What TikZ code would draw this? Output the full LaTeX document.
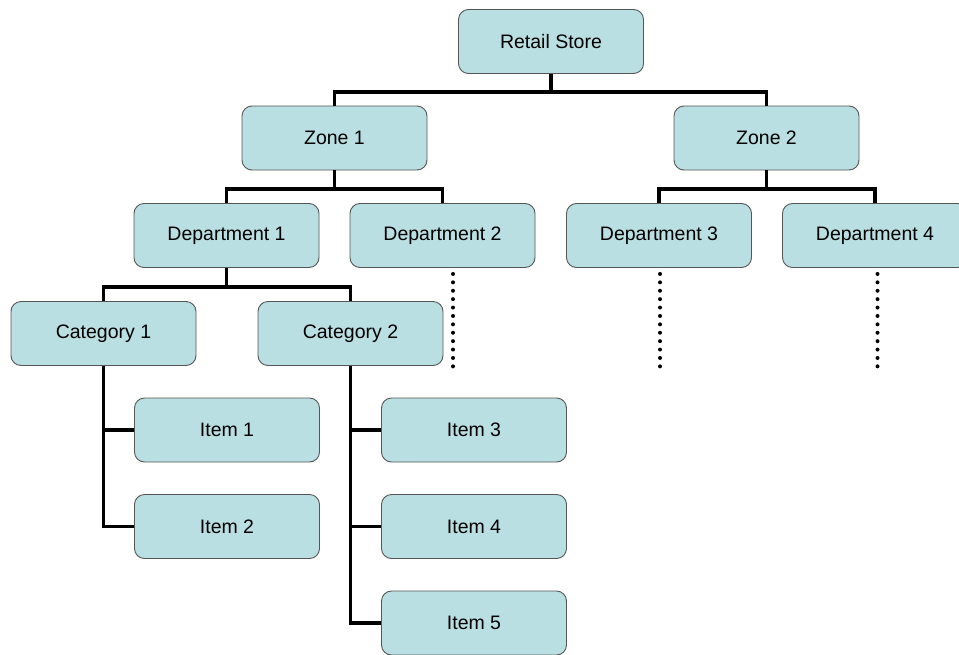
\documentclass[tikz,border=0pt]{standalone}
\usepackage{fontspec}
\setmainfont{Liberation Sans}
\usetikzlibrary{positioning,calc}
\definecolor{boxfill}{RGB}{186,223,226}
\definecolor{boxline}{RGB}{85,85,85}

\begin{document}
\begin{tikzpicture}[
    x=1pt,y=-1pt,
    font=\fontsize{19.5}{22}\selectfont,
    unit/.style={draw=boxline,fill=boxfill,rounded corners=10pt,line width=0.9pt,minimum width=185pt,minimum height=64pt,inner sep=0pt},
    link/.style={draw=black,line width=3.6pt},
    more/.style={draw=black,line width=4pt,line cap=round,dash pattern=on 0pt off 8.4pt}
  ]
    \useasboundingbox (0,0) rectangle (959,654);

    \coordinate (rsbar) at (551,92);
    \coordinate (z1bar) at (334.5,189);
    \coordinate (z2bar) at (766.5,189);
    \coordinate (d1bar) at (226.5,287);

    \node[unit] (store) at (551,41.5) {Retail Store};
    \node[unit] (zone1) at (334.5,138) {Zone 1};
    \node[unit] (zone2) at (766.5,138) {Zone 2};

    \node[unit] (dept1) at (226.5,235.5) {Department 1};
    \node[unit] (dept2) at (442.5,235.5) {Department 2};
    \node[unit] (dept3) at (659,235.5) {Department 3};
    \node[unit] (dept4) at (875,235.5) {Department 4};

    \node[unit] (cat1) at (103.5,333.5) {Category 1};
    \node[unit] (cat2) at (350.5,333.5) {Category 2};

    \node[unit] (item1) at (227,430) {Item 1};
    \node[unit] (item2) at (227,526.5) {Item 2};
    \node[unit] (item3) at (474,430) {Item 3};
    \node[unit] (item4) at (474,526.5) {Item 4};
    \node[unit] (item5) at (474,623) {Item 5};

    % tree links
    \draw[link] (store.south) -- (rsbar) -| (zone1.north);
    \draw[link] (rsbar) -| (zone2.north);
    \draw[link] (zone1.south) -- (z1bar) -| (dept1.north);
    \draw[link] (z1bar) -| (dept2.north);
    \draw[link] (zone2.south) -- (z2bar) -| (dept3.north);
    \draw[link] (z2bar) -| (dept4.north);
    \draw[link] (dept1.south) -- (d1bar) -| (cat1.north);
    \draw[link] (d1bar) -| (cat2.north);
    \foreach \c/\i in {cat1/item1,cat1/item2,cat2/item3,cat2/item4,cat2/item5} {
      \draw[link] (\c.south) |- (\i.west);
    }

    % more departments follow
    \coordinate (d2more) at ($(dept2.south)+(10.5,6)$);
    \coordinate (d3more) at ($(dept3.south)+(1,6)$);
    \coordinate (d4more) at ($(dept4.south)+(2.5,6)$);
    \foreach \m in {d2more,d3more,d4more} {
      \draw[more] (\m) -- ++(0,93);
    }
  \end{tikzpicture}
\end{document}
